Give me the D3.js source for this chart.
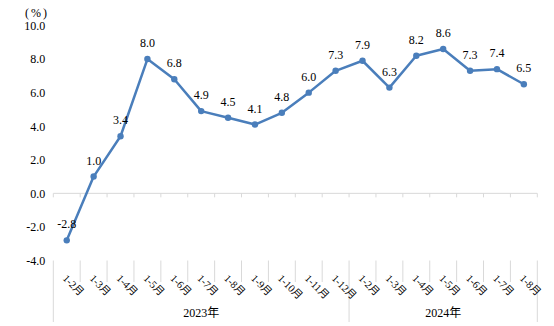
<!DOCTYPE html>
<html>
<head>
<meta charset="utf-8">
<script src="https://cdn.jsdelivr.net/npm/d3@7/dist/d3.min.js"></script>
<style>
  html, body { margin: 0; padding: 0; background: #fff; }
  svg text { font-family: "Liberation Serif", "Times New Roman", "Noto Sans CJK SC", serif; fill: #000; }
</style>
</head>
<body>
<svg id="chart" width="554" height="326"></svg>
<script>
// Cumulative growth rate by period, two years
const categories = ["1-2月","1-3月","1-4月","1-5月","1-6月","1-7月","1-8月","1-9月","1-10月","1-11月","1-12月",
                    "1-2月","1-3月","1-4月","1-5月","1-6月","1-7月","1-8月"];
const values = [-2.8, 1.0, 3.4, 8.0, 6.8, 4.9, 4.5, 4.1, 4.8, 6.0, 7.3,
                7.9, 6.3, 8.2, 8.6, 7.3, 7.4, 6.5];
const groups = [{ name: "2023年", count: 11 }, { name: "2024年", count: 7 }];
const yTicks = [-4, -2, 0, 2, 4, 6, 8, 10];
const unitLabel = "(%)";

const svg = d3.select("#chart");
const plotLeft = 53.3, plotRight = 537.3, plotTop = 25.5, plotBottom = 260.5;
const lineColor = "#4a7ebb", gridColor = "#d9d9d9";
const fmt = v => v.toFixed(1);

const idx = d3.range(categories.length);
const x = d3.scaleBand().domain(idx).range([plotLeft, plotRight]);
const y = d3.scaleLinear().domain([-4, 10]).range([plotBottom, plotTop]);
const cx = i => x(i) + x.bandwidth() / 2;

// Y axis labels
const yAxis = d3.axisLeft(y).tickValues(yTicks).tickFormat(fmt).tickSize(0).tickPadding(8);
const gy = svg.append("g").attr("transform", `translate(${plotLeft},0)`).call(yAxis);
gy.select(".domain").remove();
gy.attr("font-family", null);
gy.selectAll("text").attr("font-size", 12).attr("fill", "#000");

svg.append("text").attr("x", 37).attr("y", 16.5).attr("text-anchor", "middle")
  .attr("font-size", 12).style("letter-spacing", "2px").text(unitLabel);

// Zero baseline with tick marks at category boundaries
svg.append("line").attr("x1", plotLeft).attr("x2", plotRight).attr("y1", y(0)).attr("y2", y(0))
  .attr("stroke", gridColor).attr("stroke-width", 1);
const bounds = d3.range(categories.length + 1).map(i => i < categories.length ? x(i) : plotRight);
svg.append("g").selectAll("line").data(bounds).join("line")
  .attr("x1", d => d).attr("x2", d => d).attr("y1", y(0)).attr("y2", y(0) + 4)
  .attr("stroke", gridColor);

// Category separators below the plot
const groupEdges = [0];
groups.forEach(g => groupEdges.push(groupEdges[groupEdges.length - 1] + g.count));
svg.append("g").selectAll("line").data(d3.range(categories.length + 1)).join("line")
  .attr("x1", i => bounds[i]).attr("x2", i => bounds[i])
  .attr("y1", plotBottom).attr("y2", i => groupEdges.includes(i) ? 322 : 282)
  .attr("stroke", gridColor);

// Rotated category labels
svg.append("g").selectAll("text").data(idx).join("text")
  .attr("transform", i => `translate(${cx(i) - 4.5},${279}) rotate(45)`)
  .attr("font-size", 10.5).attr("text-anchor", "start")
  .text(i => categories[i]);

// Year labels
svg.append("g").selectAll("text").data(groups).join("text")
  .attr("x", (g, k) => (bounds[groupEdges[k]] + bounds[groupEdges[k + 1]]) / 2)
  .attr("y", 317).attr("text-anchor", "middle").attr("font-size", 12)
  .text(g => g.name);

// Line and markers
const line = d3.line().x(i => cx(i)).y(i => y(values[i]));
svg.append("path").datum(idx).attr("d", line).attr("fill", "none")
  .attr("stroke", lineColor).attr("stroke-width", 2.5).attr("stroke-linejoin", "round");
svg.append("g").selectAll("circle").data(idx).join("circle")
  .attr("cx", cx).attr("cy", i => y(values[i])).attr("r", 3.2).attr("fill", lineColor);

// Value labels
svg.append("g").selectAll("text").data(idx).join("text")
  .attr("x", cx).attr("y", i => y(values[i]) - 12).attr("text-anchor", "middle")
  .attr("font-size", 12).text(i => fmt(values[i]));
</script>
</body>
</html>
